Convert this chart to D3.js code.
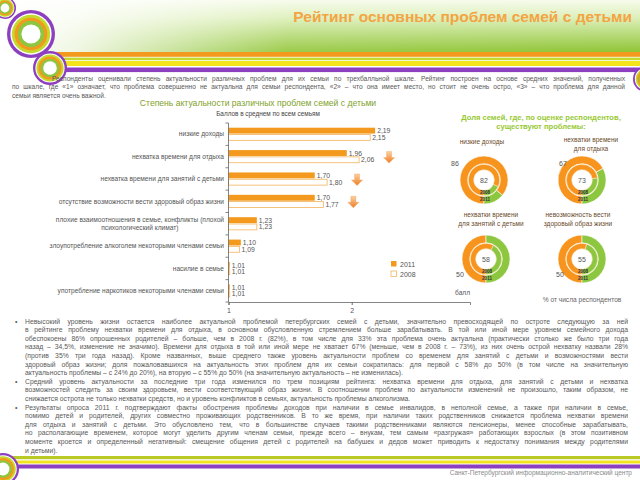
<!DOCTYPE html>
<html><head><meta charset="utf-8">
<script src="https://cdn.jsdelivr.net/npm/d3@7"></script>
<style>body{margin:0;background:#fff}svg{display:block}text{font-family:"Liberation Sans",Arial,sans-serif}</style>
</head><body><svg id="c" width="640" height="480"></svg>
<script>
// ---------- data ----------
const pageTitle = "Рейтинг основных проблем семей с детьми";
const chartTitle = "Степень актуальности различных проблем семей с детьми";
const chartSubtitle = "Баллов в среднем по всем семьям";
const categories = [
  "низкие доходы",
  "нехватка времени для отдыха",
  "нехватка времени для занятий с детьми",
  "отсутствие возможности вести здоровый образ жизни",
  "плохие взаимоотношения в семье, конфликты (плохой\nпсихологический климат)",
  "злоупотребление алкоголем некоторыми членами семьи",
  "насилие в семье",
  "употребление наркотиков некоторыми членами семьи"
];
const seriesNames = ["2011", "2008"];
const values2011 = [2.19, 1.96, 1.70, 1.70, 1.23, 1.10, 1.01, 1.01];
const values2008 = [2.15, 2.06, 1.80, 1.77, 1.23, 1.09, 1.01, 1.01];
const xTicks = [1, 2];
const axisUnit = "балл";
const donutHeader = ["Доля семей, где, по оценке респондентов,", "существуют проблемы:"];
const donutNames = [["низкие доходы"], ["нехватки времени", "для отдыха"], ["нехватки времени", "для занятий с детьми"], ["невозможность вести", "здоровый образ жизни"]];
const share2011 = [86, 67, 50, 50];
const share2008 = [82, 73, 58, 55];
const donutNote = "% от числа респондентов";
const introLines = [
  "Респонденты оценивали степень актуальности различных проблем для их семьи по трехбалльной шкале. Рейтинг построен на основе средних значений, полученных",
  "по шкале, где «1» означает, что проблема совершенно не актуальна для семьи респондента, «2» – что она имеет место, но стоит не очень остро, «3» – что проблема для данной",
  "семьи является очень важной."
];
const bullets = [
  ["Невысокий уровень жизни остается наиболее актуальной проблемой петербургских семей с детьми, значительно превосходящей по остроте следующую за ней",
   "в рейтинге проблему нехватки времени для отдыха, в основном обусловленную стремлением больше зарабатывать. В той или иной мере уровнем семейного дохода",
   "обеспокоены 86% опрошенных родителей – больше, чем в 2008 г. (82%), в том числе для 33% эта проблема очень актуальна (практически столько же было три года",
   "назад – 34,5%, изменение не значимо). Времени для отдыха в той или иной мере не хватает 67% (меньше, чем в 2008 г. – 73%), из них очень острой нехватку назвали 28%",
   "(против 35% три года назад). Кроме названных, выше среднего также уровень актуальности проблем со временем для занятий с детьми и возможностями вести",
   "здоровый образ жизни; доля пожаловавшихся на актуальность этих проблем для их семьи сократилась: для первой с 58% до 50% (в том числе на значительную",
   "актуальность проблемы – с 24% до 20%), на вторую – с 55% до 50% (на значительную актуальность – не изменилась)."],
  ["Средний уровень актуальности за последние три года изменился по трем позициям рейтинга: нехватка времени для отдыха, для занятий с детьми и нехватка",
   "возможностей следить за своим здоровьем, вести соответствующий образ жизни. В соотношении проблем по актуальности изменений не произошло, таким образом, не",
   "снижается острота не только нехватки средств, но и уровень конфликтов в семьях, актуальность проблемы алкоголизма."],
  ["Результаты опроса 2011 г. подтверждают факты обострения проблемы доходов при наличии в семье инвалидов, в неполной семье, а также при наличии в семье,",
   "помимо детей и родителей, других совместно проживающих родственников. В то же время, при наличии таких родственников снижается проблема нехватки времени",
   "для отдыха и занятий с детьми. Это обусловлено тем, что в большинстве случаев такими родственниками являются пенсионеры, менее способные зарабатывать,",
   "но располагающие временем, которое могут уделить другим членам семьи, прежде всего – внукам, тем самым «разгружая» работающих взрослых (в этом позитивном",
   "моменте кроется и определенный негативный: смещение общения детей с родителей на бабушек и дедов может приводить к недостатку понимания между родителями",
   "и детьми)."]
];
const footerText = "Санкт-Петербургский информационно-аналитический центр";

// ---------- style ----------
const C = {orange:"#f39a1e", orangeLight:"#f2b35c", green:"#8dc63f", purple:"#8c3fbf", yellow:"#f3e31c", yg:"#c5d82c", text:"#595959", titleOrange:"#f3a444", titleGreen:"#7fa22c", headGreen:"#98c934"};
const svg = d3.select("#c");
const defs = svg.append("defs");

// ---------- header ----------
const gV = defs.append("linearGradient").attr("id","gV").attr("x1",0).attr("y1",0).attr("x2",0).attr("y2",1);
gV.append("stop").attr("offset","0%").attr("stop-color","#f6fbec");
gV.append("stop").attr("offset","35%").attr("stop-color","#dcefb8");
gV.append("stop").attr("offset","100%").attr("stop-color","#90c536");
const gH = defs.append("linearGradient").attr("id","gH").attr("x1",0).attr("y1",0).attr("x2",1).attr("y2",0);
gH.append("stop").attr("offset","0%").attr("stop-color","#fff").attr("stop-opacity",1);
gH.append("stop").attr("offset","12%").attr("stop-color","#fff").attr("stop-opacity",0.85);
gH.append("stop").attr("offset","45%").attr("stop-color","#fff").attr("stop-opacity",0.1);
gH.append("stop").attr("offset","100%").attr("stop-color","#fff").attr("stop-opacity",0);
svg.append("rect").attr("x",0).attr("y",0).attr("width",640).attr("height",52).attr("fill","url(#gV)");
svg.append("rect").attr("x",0).attr("y",0).attr("width",640).attr("height",52).attr("fill","url(#gH)");
const stripes = [[52,4.8,C.orange],[57.6,2.6,C.yg],[61,5,C.yellow],[67.5,4.6,C.purple]];
stripes.forEach(s=>svg.append("rect").attr("x",40).attr("y",s[0]).attr("width",600).attr("height",s[1]).attr("fill",s[2]));
const bStripes = [[456,3.2,"#b9c925"],[460.5,3,C.yellow],[464.5,4,C.purple]];
bStripes.forEach(s=>svg.append("rect").attr("x",0).attr("y",s[0]).attr("width",640).attr("height",s[1]).attr("fill",s[2]));

function ringDeco(cx, cy, r){
  const layers = [[1,C.purple],[0.86,"#fff"],[0.8,C.yg],[0.68,C.orange],[0.55,C.green],[0.4,"#fff"]];
  layers.forEach(l=>svg.append("circle").attr("cx",cx).attr("cy",cy).attr("r",r*l[0]).attr("fill",l[1]));
}
ringDeco(5,8,11);
ringDeco(31,34,24);
ringDeco(50,68,17);
ringDeco(646,79,13);
ringDeco(3,469,16);

svg.append("text").attr("x",632).attr("y",22).attr("text-anchor","end")
  .attr("font-size",15.5).attr("font-weight","bold").attr("fill",C.titleOrange).text(pageTitle);

svg.append("text").attr("x",632).attr("y",475).attr("text-anchor","end")
  .attr("font-size",6.5).attr("fill","#8a8a8a").text(footerText);

// ---------- justified text helper ----------
function lineText(x, y, str, size, width, justify){
  const t = svg.append("text").attr("x",x).attr("y",y).attr("font-size",size).attr("fill",C.text).text(str);
  if (justify){
    const len = t.node().getComputedTextLength();
    const sp = (str.match(/ /g)||[]).length;
    if (sp) t.style("word-spacing", ((width-len)/sp)+"px");
  }
  return t;
}
// intro
introLines.forEach((s,i)=>{
  const x = i===0 ? 52 : 12;
  lineText(x, 80.5 + i*8.6, s, 6.6, 625 - x, i < introLines.length-1);
});
// bullets
let by = 323.5;
bullets.forEach(par=>{
  svg.append("text").attr("x",15).attr("y",by).attr("font-size",7).attr("fill",C.text).text("•");
  par.forEach((s,i)=>{
    lineText(25, by, s, 6.8, 628-25, i < par.length-1);
    by += 8.6;
  });
});

// ---------- bar chart ----------
svg.append("text").attr("x",258).attr("y",106).attr("text-anchor","middle").attr("font-size",8.6)
  .attr("fill",C.titleGreen).text(chartTitle);
svg.append("text").attr("x",268).attr("y",115.5).attr("text-anchor","middle").attr("font-size",6.4)
  .attr("fill","#444").text(chartSubtitle);

const x = d3.scaleLinear().domain([1, 2.96]).range([228.5, 470]);
const y = d3.scaleBand().domain(categories).range([123, 302]).paddingInner(0.42).paddingOuter(0.21);
const ySub = d3.scaleBand().domain(seriesNames).range([0, y.bandwidth()]);
const rows = categories.map((c,i)=>({c, v:[values2011[i], values2008[i]]}));
const fmt = v => d3.format(".2f")(v).replace(".", ",");

const g = svg.append("g");
const grp = g.selectAll("g.row").data(rows).join("g").attr("transform", d=>`translate(0,${y(d.c)})`);
grp.each(function(d){
  const gg = d3.select(this);
  seriesNames.forEach((s,k)=>{
    const v = d.v[k];
    gg.append("rect").attr("x", x(1)).attr("y", ySub(s)+ (k===0?0:0.3)).attr("width", Math.max(x(v)-x(1), 0.8))
      .attr("height", ySub.bandwidth()-0.6)
      .attr("fill", k===0 ? C.orange : "#fff").attr("stroke", k===0 ? "none" : C.orangeLight).attr("stroke-width",0.8);
    gg.append("text").attr("x", x(v)+2).attr("y", ySub(s)+ySub.bandwidth()/2).attr("dy","0.35em")
      .attr("font-size",6.8).attr("fill","#555").text(fmt(v));
  });
});
// category labels
rows.forEach(d=>{
  const parts = d.c.split("\n");
  const cy = y(d.c) + y.bandwidth()/2;
  const lh = 8;
  if (parts.length === 1){
    svg.append("text").attr("x",224).attr("y",cy).attr("dy","0.35em").attr("text-anchor","end")
      .attr("font-size",6.6).attr("fill","#555").text(parts[0]);
  } else {
    const t0 = svg.append("text").attr("x",224).attr("y",cy - lh/2).attr("dy","0.35em").attr("text-anchor","end")
      .attr("font-size",6.6).attr("fill","#555").text(parts[0]);
    const w0 = t0.node().getComputedTextLength();
    svg.append("text").attr("x",224 - w0/2).attr("y",cy + lh/2).attr("dy","0.35em").attr("text-anchor","middle")
      .attr("font-size",6.6).attr("fill","#555").text(parts[1]);
  }
});
// y axis line + ticks at band boundaries
svg.append("line").attr("x1",x(1)).attr("x2",x(1)).attr("y1",123).attr("y2",302).attr("stroke","#666").attr("stroke-width",0.8);
d3.range(categories.length+1).forEach(i=>{
  const yy = 123 + i*y.step();
  svg.append("line").attr("x1",x(1)-3).attr("x2",x(1)).attr("y1",yy).attr("y2",yy).attr("stroke","#666").attr("stroke-width",0.8);
});
// x axis
const xa = svg.append("g").attr("transform","translate(0,302)")
  .call(d3.axisBottom(x).tickValues(xTicks).tickSize(3).tickFormat(d3.format("d")));
xa.select(".domain").attr("stroke","#666").attr("stroke-width",0.8);
xa.selectAll(".tick line").attr("stroke","#666");
xa.selectAll(".tick text").attr("font-size",7).attr("fill","#555").attr("font-family","Liberation Sans, Arial, sans-serif").attr("y",6);
svg.append("text").attr("x",470).attr("y",295).attr("text-anchor","end").attr("font-size",6.6).attr("fill","#555").text(axisUnit);

// down arrows where 2011 < 2008
const ag = defs.append("linearGradient").attr("id","ag").attr("x1",0).attr("y1",0).attr("x2",0).attr("y2",1);
ag.append("stop").attr("offset","0%").attr("stop-color","#fbd1a0");
ag.append("stop").attr("offset","100%").attr("stop-color","#ee7d22");
rows.forEach(d=>{
  if (d.v[1] - d.v[0] > 0.05){
    const ax = x(d.v[1]) + 30, ay = y(d.c) + y.bandwidth()/2 + 1;
    const p = `M${ax-2.5},${ay-6} L${ax+2.5},${ay-6} L${ax+2.5},${ay} L${ax+5.5},${ay} L${ax},${ay+5.5} L${ax-5.5},${ay} L${ax-2.5},${ay} Z`;
    svg.append("path").attr("d",p).attr("fill","url(#ag)").attr("stroke","#f0a060").attr("stroke-width",0.4);
  }
});
// legend
seriesNames.forEach((s,k)=>{
  const ly = 261 + k*10;
  svg.append("rect").attr("x",391).attr("y",ly).attr("width",5.5).attr("height",5.5)
    .attr("fill", k===0?C.orange:"#fff").attr("stroke", k===0?"none":C.orangeLight).attr("stroke-width",0.8);
  svg.append("text").attr("x",400).attr("y",ly+5.5).attr("font-size",7).attr("fill","#555").text(s);
});

// ---------- donuts ----------
donutHeader.forEach((s,i)=>svg.append("text").attr("x",541).attr("y",119.5+i*9).attr("text-anchor","middle")
  .attr("font-size",7.6).attr("font-weight","bold").attr("fill",C.headGreen).text(s));
const dCx = [484, 582, 486, 582], dCy = [180, 180, 259, 259];
const titleCx = [482, 591, 491, 578];
const titleBase = [[144],[142,150.5],[216.5,225.5],[216.5,225.5]];
const outerOff = [[-29,-16],[-19,-16],[-26,16],[-22,16]];
const pie = d3.pie().sort(null).startAngle(Math.PI).endAngle(3*Math.PI).value(d=>d);
const arcOuter = d3.arc().innerRadius(16.3).outerRadius(24);
const arcInner = d3.arc().innerRadius(10.3).outerRadius(15.6);
donutNames.forEach((nm,i)=>{
  nm.forEach((s,j)=>svg.append("text").attr("x",titleCx[i]).attr("y",titleBase[i][j]).attr("text-anchor","middle")
    .attr("font-size",6.5).attr("fill","#6a4a2a").text(s));
  const dg = svg.append("g").attr("transform",`translate(${dCx[i]},${dCy[i]})`);
  dg.selectAll("path.o").data(pie([share2011[i], 100-share2011[i]])).join("path").attr("class","o")
    .attr("d",arcOuter).attr("fill",(d,k)=>k===0?"#f7941d":C.green).attr("stroke","#fff").attr("stroke-width",0.6);
  dg.selectAll("path.n").data(pie([share2008[i], 100-share2008[i]])).join("path").attr("class","n")
    .attr("d",arcInner).attr("fill",(d,k)=>k===0?"#f7941d":C.green).attr("stroke","#fce2c0").attr("stroke-width",0.6);
  dg.append("text").attr("x",0).attr("y",1).attr("dy","0.35em").attr("text-anchor","middle").attr("font-size",7).attr("fill","#555").text(share2008[i]);
  dg.append("text").attr("x",outerOff[i][0]).attr("y",outerOff[i][1]).attr("dy","0.35em").attr("text-anchor","middle").attr("font-size",7).attr("fill","#555").text(share2011[i]);
  dg.append("text").attr("x",1).attr("y",13.5).attr("text-anchor","middle").attr("font-size",4.6).attr("font-weight","bold").attr("fill","#333").text(seriesNames[1]);
  dg.append("text").attr("x",1).attr("y",20.5).attr("text-anchor","middle").attr("font-size",4.6).attr("font-weight","bold").attr("fill","#333").text(seriesNames[0]);
});
svg.append("text").attr("x",582).attr("y",301.5).attr("text-anchor","middle").attr("font-size",6.6).attr("fill","#666").text(donutNote);
</script></body></html>
